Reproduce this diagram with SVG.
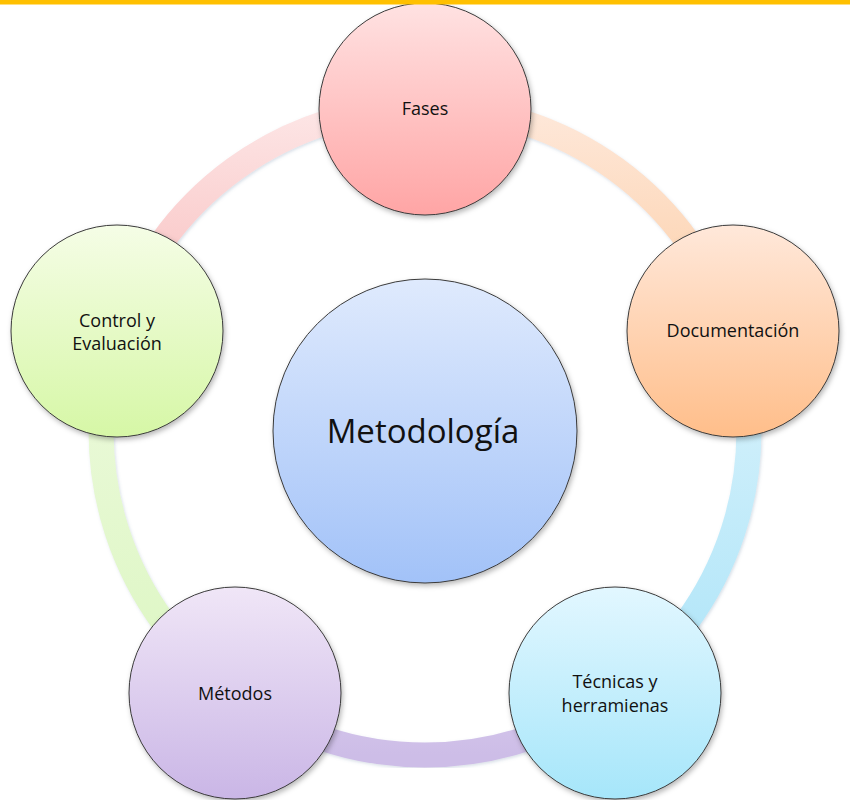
<svg xmlns="http://www.w3.org/2000/svg" width="850" height="800" viewBox="0 0 850 800">
<defs>
<linearGradient id="gFases" x1="0" y1="0" x2="0" y2="1"><stop offset="0" stop-color="#FFE2E2"/><stop offset="1" stop-color="#FFA5A5"/></linearGradient>
<linearGradient id="gDoc" x1="0" y1="0" x2="0" y2="1"><stop offset="0" stop-color="#FFE8DA"/><stop offset="1" stop-color="#FFBE8A"/></linearGradient>
<linearGradient id="gTec" x1="0" y1="0" x2="0" y2="1"><stop offset="0" stop-color="#E2F7FF"/><stop offset="1" stop-color="#A6E6FA"/></linearGradient>
<linearGradient id="gMet" x1="0" y1="0" x2="0" y2="1"><stop offset="0" stop-color="#F0E6F7"/><stop offset="1" stop-color="#CAB6E6"/></linearGradient>
<linearGradient id="gCtrl" x1="0" y1="0" x2="0" y2="1"><stop offset="0" stop-color="#F5FDE6"/><stop offset="1" stop-color="#D6F7A6"/></linearGradient>
<linearGradient id="gCen" x1="0" y1="0" x2="0" y2="1"><stop offset="0" stop-color="#DFEAFD"/><stop offset="1" stop-color="#A2C2F8"/></linearGradient>
<linearGradient id="aPink" x1="0" y1="0" x2="0" y2="1"><stop offset="0" stop-color="#FDE6E6"/><stop offset="1" stop-color="#F8BCBC"/></linearGradient>
<linearGradient id="aPeach" x1="0" y1="0" x2="0" y2="1"><stop offset="0" stop-color="#FEE8DA"/><stop offset="1" stop-color="#FCCEA6"/></linearGradient>
<linearGradient id="aBlue" x1="0" y1="0" x2="0" y2="1"><stop offset="0" stop-color="#DAF3FC"/><stop offset="1" stop-color="#ADE4F8"/></linearGradient>
<linearGradient id="aPurple" x1="0" y1="0" x2="0" y2="1"><stop offset="0" stop-color="#D6C8EC"/><stop offset="1" stop-color="#CDBDE7"/></linearGradient>
<linearGradient id="aGreen" x1="0" y1="0" x2="0" y2="1"><stop offset="0" stop-color="#EDFADD"/><stop offset="1" stop-color="#DCF6C2"/></linearGradient>
<filter id="sh" x="-20%" y="-20%" width="140%" height="140%">
<feDropShadow dx="1.5" dy="2.5" stdDeviation="2.5" flood-color="#000" flood-opacity="0.28"/>
</filter>
<filter id="ash" x="-20%" y="-20%" width="140%" height="140%">
<feDropShadow dx="1" dy="1.5" stdDeviation="1.5" flood-color="#6080a0" flood-opacity="0.25"/>
</filter>
</defs>
<style>
.node{stroke:#3a3a3a;stroke-width:1;filter:url(#sh)}
.arc{fill:none;stroke-width:25;filter:url(#ash)}
.lbl{font-family:"Open Sans","Liberation Sans",sans-serif;font-size:18px;fill:#111;text-anchor:middle}
.big{font-family:"Open Sans","Liberation Sans",sans-serif;font-size:33px;fill:#111;text-anchor:middle}
</style>
<rect x="0" y="0" width="850" height="800" fill="#fff"/>
<g id="connectors">
<path class="arc" stroke="url(#aPink)" d="M116.9 330.9 A324 324 0 0 1 425 107"/>
<path class="arc" stroke="url(#aPeach)" d="M425 107 A324 324 0 0 1 733.1 330.9"/>
<path class="arc" stroke="url(#aBlue)" d="M733.1 330.9 A324 324 0 0 1 615.4 693.1"/>
<path class="arc" stroke="url(#aPurple)" d="M615.4 693.1 A324 324 0 0 1 234.6 693.1"/>
<path class="arc" stroke="url(#aGreen)" d="M234.6 693.1 A324 324 0 0 1 116.9 330.9"/>
</g>
<g id="metodologia">
<circle class="node" cx="425" cy="431" r="152" fill="url(#gCen)"/>
<text class="big" x="423" y="443">Metodología</text>
</g>
<g id="fases">
<circle class="node" cx="425" cy="109" r="106" fill="url(#gFases)"/>
<text class="lbl" x="425" y="115">Fases</text>
</g>
<g id="documentacion">
<circle class="node" cx="733" cy="331" r="106" fill="url(#gDoc)"/>
<text class="lbl" x="733" y="337">Documentación</text>
</g>
<g id="tecnicas">
<circle class="node" cx="615" cy="693" r="106" fill="url(#gTec)"/>
<text class="lbl" x="615" y="688">Técnicas y</text>
<text class="lbl" x="615" y="712">herramienas</text>
</g>
<g id="metodos">
<circle class="node" cx="235" cy="693" r="106" fill="url(#gMet)"/>
<text class="lbl" x="235" y="700">Métodos</text>
</g>
<g id="control">
<circle class="node" cx="117" cy="331" r="106" fill="url(#gCtrl)"/>
<text class="lbl" x="117" y="327">Control y</text>
<text class="lbl" x="117" y="350">Evaluación</text>
</g>
<rect x="0" y="0" width="850" height="4.5" fill="#FFC000"/>
</svg>
